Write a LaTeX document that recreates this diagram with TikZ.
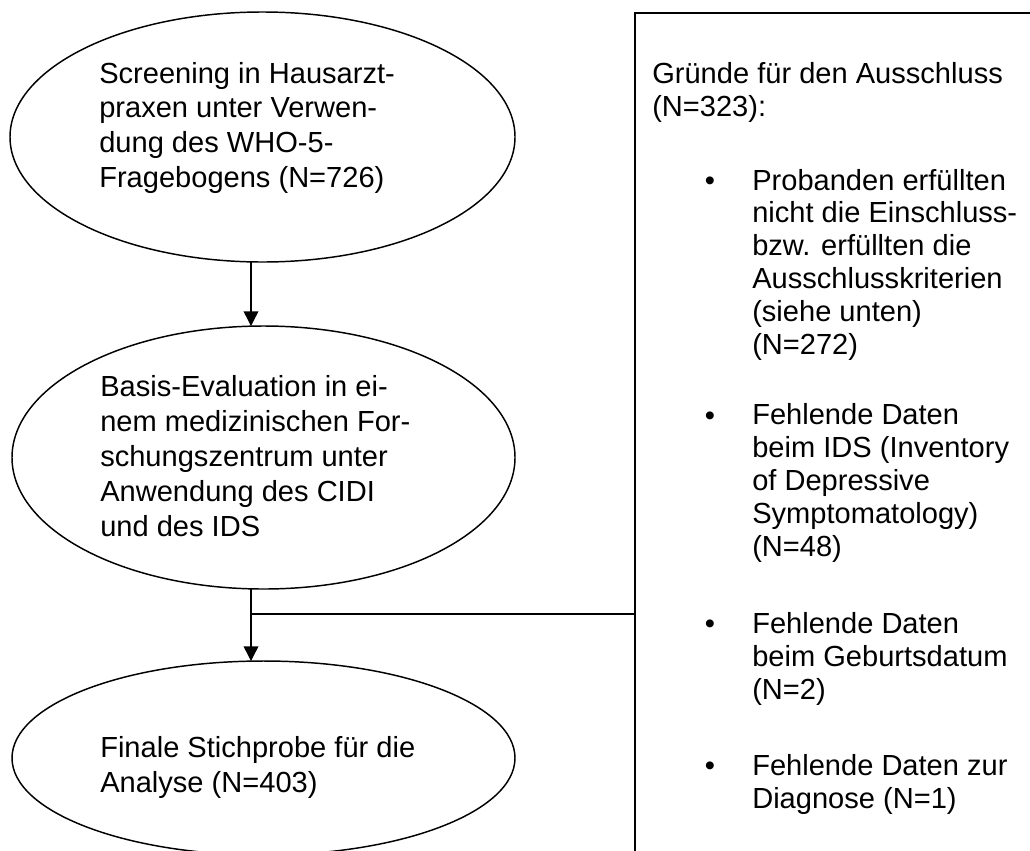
\documentclass[tikz,border=0pt]{standalone}
\usepackage{fontspec}
\setmainfont{Liberation Sans}
\usetikzlibrary{shapes.geometric,arrows.meta}
\begin{document}
\begin{tikzpicture}[x=0.75pt,y=-0.75pt,
  oval/.style={ellipse,draw,line width=1.1pt,inner sep=0pt,outer sep=0pt},
  conn/.style={line width=1.1pt},
  arr/.style={conn,-{Triangle[length=11pt,width=11pt]}},
  ovaltext/.style={anchor=base west,align=left,inner sep=0pt,font=\fontsize{21.8}{26.1}\selectfont},
  boxtext/.style={anchor=base west,align=left,inner sep=0pt,font=\fontsize{21.8}{24.6}\selectfont},
  bulletmark/.style={anchor=base,inner sep=0pt,font=\fontsize{21.8}{24.6}\selectfont}]
\useasboundingbox (0,0) rectangle (1030,850);
\clip (0,0) rectangle (1030,850);
% ovals
\node[oval,minimum width=378.75pt,minimum height=187.5pt] (e1) at (262.5,137) {};
\node[oval,minimum width=377.25pt,minimum height=197.25pt] (e2) at (263.5,457.5) {};
\node[oval,minimum width=377.25pt,minimum height=145.5pt] (e3) at (263.5,758) {};
% multi-line texts are placed by the baseline of their last line
\node[ovaltext] (t1) at (99,187.5) {Screening in Hausarzt-\\praxen unter Verwen-\\dung des WHO-5-\\Fragebogens (N=726)};
\node[ovaltext] (t2) at (100,536) {Basis-Evaluation in ei-\\nem medizinischen For-\\schungszentrum unter\\Anwendung des CIDI\\und des IDS};
\node[ovaltext] (t3) at (100,792) {Finale Stichprobe für die\\Analyse (N=403)};
% exclusion box
\node[draw,line width=1.1pt,anchor=north west,inner sep=0pt,outer sep=0pt,minimum width=375pt,minimum height=675pt] (box) at (635,13) {};
\node[boxtext] (head) at (652,116) {Gründe für den Ausschluss\\(N=323):};
\node[bulletmark] (m1) at (710,190) {•};
\node[boxtext] (r1) at (752,354) {Probanden erfüllten\\nicht die Einschluss-\\bzw. erfüllten die\\Ausschlusskriterien\\(siehe unten)\\(N=272)};
\node[bulletmark] (m2) at (710,425) {•};
\node[boxtext] (r2) at (752,556) {Fehlende Daten\\beim IDS (Inventory\\of Depressive\\Symptomatology)\\(N=48)};
\node[bulletmark] (m3) at (710,633.5) {•};
\node[boxtext] (r3) at (752,699) {Fehlende Daten\\beim Geburtsdatum\\(N=2)};
\node[bulletmark] (m4) at (710,775) {•};
\node[boxtext] (r4) at (752,808) {Fehlende Daten zur\\Diagnose (N=1)};
% connectors
\coordinate (ax) at (251,0);
\coordinate (j) at (251,614);
\draw[arr] (e1.south -| ax) -- (e2.north -| ax);
\draw[arr] (e2.south -| ax) -- (e3.north -| ax);
\draw[conn] (j) -- (j -| box.west);
\end{tikzpicture}
\end{document}
